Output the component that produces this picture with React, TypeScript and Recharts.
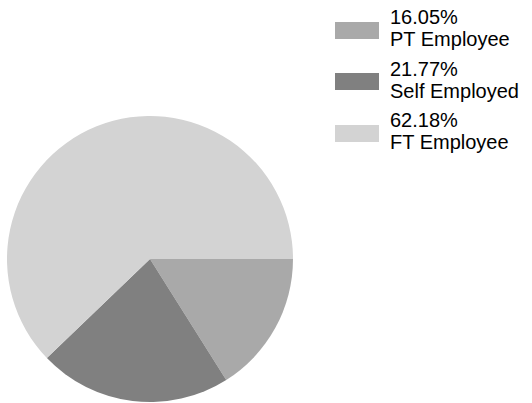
import { Cell, Legend, Pie, PieChart } from 'recharts';

const categories = ['PT Employee', 'Self Employed', 'FT Employee'];
const shares = [16.05, 21.77, 62.18];
const colors = ['#a9a9a9', '#808080', '#d3d3d3'];

const chartData = categories.map((name, i) => ({
  name,
  value: shares[i],
}));

function LegendContent() {
  return (
    <div style={{ fontFamily: '"Liberation Sans", Arial, sans-serif' }}>
      {chartData.map((item, i) => (
        <div
          key={item.name}
          style={{
            display: 'flex',
            alignItems: 'center',
            height: 44,
            marginBottom: 7.5,
          }}
        >
          <div
            style={{
              width: 44,
              height: 17,
              backgroundColor: colors[i],
              marginRight: 11,
              marginTop: 4,
            }}
          />
          <div style={{ fontSize: 20, lineHeight: '22px', color: '#000' }}>
            <div>{item.value.toFixed(2)}%</div>
            <div>{item.name}</div>
          </div>
        </div>
      ))}
    </div>
  );
}

export default function App() {
  return (
    <div style={{ position: 'absolute', left: 0, top: 0, background: '#fff' }}>
      <PieChart width={532} height={403} margin={{ top: 0, right: 0, bottom: 0, left: 0 }}>
        <Pie
          data={chartData}
          dataKey="value"
          nameKey="name"
          cx={150}
          cy={259}
          outerRadius={143}
          startAngle={0}
          endAngle={-360}
          stroke="none"
          isAnimationActive={false}
        >
          {chartData.map((item, i) => (
            <Cell key={item.name} fill={colors[i]} />
          ))}
        </Pie>
        <Legend
          content={<LegendContent />}
          layout="vertical"
          wrapperStyle={{ left: 335, top: 6, width: 197 }}
        />
      </PieChart>
    </div>
  );
}
